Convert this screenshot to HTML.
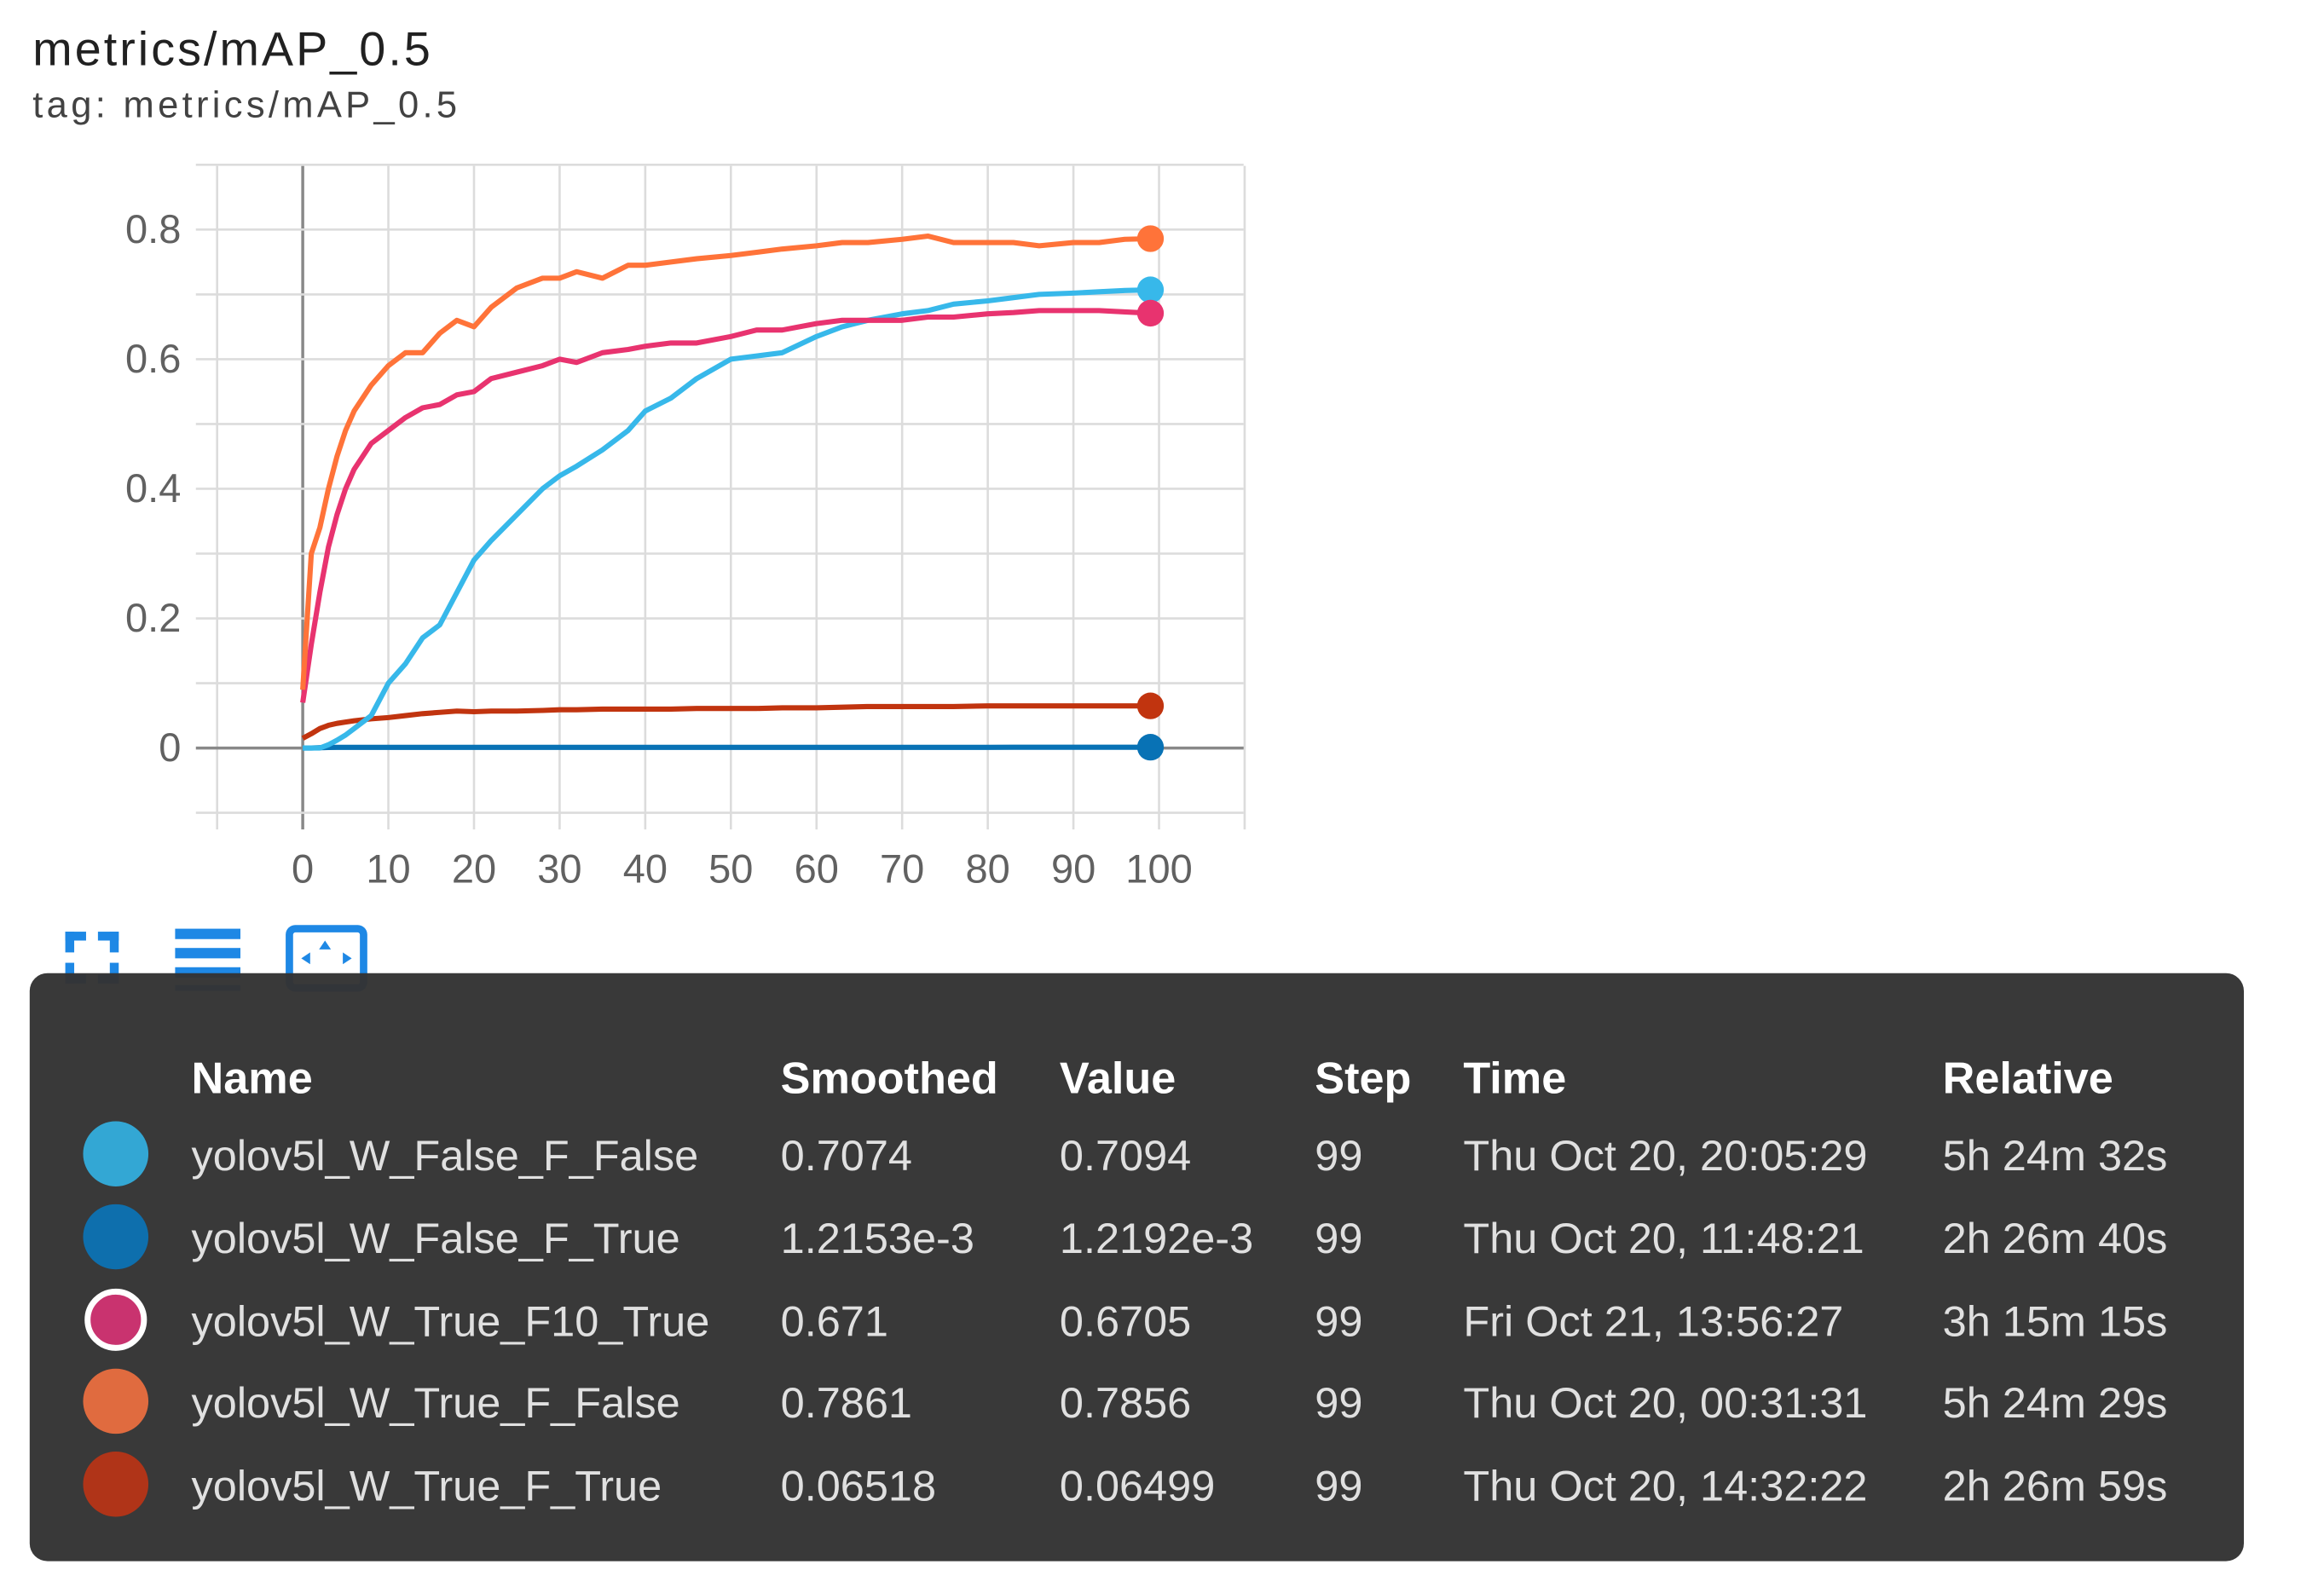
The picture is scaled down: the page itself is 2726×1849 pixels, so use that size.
<!DOCTYPE html>
<html><head><meta charset="utf-8">
<style>
html,body{margin:0;padding:0;background:#fff;width:2726px;height:1849px;overflow:hidden}
svg{display:block}
text{font-family:"Liberation Sans",sans-serif}
</style></head>
<body>
<svg id="chart" width="2726" height="1849" viewBox="0 0 1566 1064" preserveAspectRatio="none" xmlns="http://www.w3.org/2000/svg">
  <text x="22" y="44" font-size="32" fill="#212121" textLength="268">metrics/mAP_0.5</text>
  <text x="22" y="79" font-size="25" fill="#424242" textLength="286">tag: metrics/mAP_0.5</text>
  <g id="grid"></g>
  <g id="series"></g>
  <g fill="#1e88e5">
    <rect x="44" y="629" width="6" height="14"/><rect x="44" y="629" width="14" height="6"/>
    <rect x="74" y="629" width="6" height="14"/><rect x="66" y="629" width="14" height="6"/>
    <rect x="44" y="650" width="6" height="14"/><rect x="44" y="658" width="14" height="6"/>
    <rect x="74" y="650" width="6" height="14"/><rect x="66" y="658" width="14" height="6"/>
  </g>
  <g fill="#1e88e5">
    <rect x="118" y="627" width="44" height="7"/><rect x="118" y="640" width="44" height="7"/><rect x="118" y="653" width="44" height="7"/><rect x="118" y="665" width="44" height="4"/>
  </g>
  <g>
    <rect x="195" y="627" width="50" height="40" rx="4" fill="none" stroke="#1e88e5" stroke-width="5"/>
    <polygon points="219,635 215,641 223,641" fill="#1e88e5"/>
    <polygon points="203,647 209,643 209,651" fill="#1e88e5"/>
    <polygon points="237,647 231,643 231,651" fill="#1e88e5"/>
  </g>
  <g>
    <rect x="20" y="657" width="1492" height="397" rx="12" fill="#333333" opacity="0.97"/>
    <g font-size="30" font-weight="bold" fill="#ffffff">
      <text x="129" y="738">Name</text><text x="526" y="738">Smoothed</text><text x="714" y="738">Value</text>
      <text x="886" y="738">Step</text><text x="986" y="738">Time</text><text x="1309" y="738">Relative</text>
    </g>
    <g id="rows" font-size="29" fill="#e0e0e0"></g>
  </g>
</svg>
<script>
const NS='http://www.w3.org/2000/svg';
const steps=[0,1,2,3,4,5,6,8,10,12,14,16,18,20,22,25,28,30,32,35,38,40,43,46,50,53,56,60,63,66,70,73,76,80,83,86,90,93,96,99];
const trueFFalse=[0.09,0.30,0.34,0.40,0.45,0.49,0.52,0.56,0.59,0.61,0.61,0.64,0.66,0.65,0.68,0.71,0.725,0.725,0.735,0.725,0.745,0.745,0.75,0.755,0.76,0.765,0.77,0.775,0.78,0.78,0.785,0.79,0.78,0.78,0.78,0.775,0.78,0.78,0.785,0.786];
const trueF10True=[0.07,0.16,0.24,0.31,0.36,0.40,0.43,0.47,0.49,0.51,0.525,0.53,0.545,0.55,0.57,0.58,0.59,0.60,0.595,0.61,0.615,0.62,0.625,0.625,0.635,0.645,0.645,0.655,0.66,0.66,0.66,0.665,0.665,0.67,0.672,0.675,0.675,0.675,0.673,0.671];
const falseFFalse=[0.0,0.0,0.0,0.005,0.012,0.02,0.03,0.05,0.10,0.13,0.17,0.19,0.24,0.29,0.32,0.36,0.40,0.42,0.435,0.46,0.49,0.52,0.54,0.57,0.60,0.605,0.61,0.635,0.65,0.66,0.67,0.675,0.685,0.69,0.695,0.70,0.702,0.704,0.706,0.707];
const trueFTrue=[0.015,0.022,0.03,0.035,0.038,0.04,0.042,0.045,0.047,0.05,0.053,0.055,0.057,0.056,0.057,0.057,0.058,0.059,0.059,0.06,0.06,0.06,0.06,0.061,0.061,0.061,0.062,0.062,0.063,0.064,0.064,0.064,0.064,0.065,0.065,0.065,0.065,0.065,0.065,0.065];
const falseFTrue=[0.0,0.0,0.0005,0.0008,0.001,0.001,0.001,0.001,0.001,0.001,0.001,0.001,0.001,0.001,0.001,0.001,0.001,0.001,0.001,0.001,0.001,0.001,0.001,0.001,0.001,0.001,0.001,0.001,0.001,0.001,0.001,0.001,0.001,0.001,0.0012,0.0012,0.0012,0.0012,0.0012,0.0012];
const xTicks=[0,10,20,30,40,50,60,70,80,90,100];
const yTicks=[0,0.2,0.4,0.6,0.8];
const yTickLabels=['0','0.2','0.4','0.6','0.8'];
const names=['yolov5l_W_False_F_False','yolov5l_W_False_F_True','yolov5l_W_True_F10_True','yolov5l_W_True_F_False','yolov5l_W_True_F_True'];
const smoothed=['0.7074','1.2153e-3','0.671','0.7861','0.06518'];
const values=['0.7094','1.2192e-3','0.6705','0.7856','0.06499'];
const stepCol=['99','99','99','99','99'];
const times=['Thu Oct 20, 20:05:29','Thu Oct 20, 11:48:21','Fri Oct 21, 13:56:27','Thu Oct 20, 00:31:31','Thu Oct 20, 14:32:22'];
const relative=['5h 24m 32s','2h 26m 40s','3h 15m 15s','5h 24m 29s','2h 26m 59s'];

const X=v=>204+v*5.77;
const Y=v=>505-v*437.5;
function mk(tag,attrs,parent){const e=document.createElementNS(NS,tag);for(const k in attrs)e.setAttribute(k,attrs[k]);parent.appendChild(e);return e;}
const grid=document.getElementById('grid');
for(let v=-10;v<=110;v+=10){
  const l=mk('line',{x1:X(v),x2:X(v),y1:112,y2:560,stroke:v===0?'#888':'#dcdcdc','stroke-width':v===0?2:1.5},grid);
  
  
}
for(let i=-1;i<=9;i++){
  const v=i/10;
  const l=mk('line',{x1:132,x2:838,y1:Y(v),y2:Y(v),stroke:i===0?'#888':'#dcdcdc','stroke-width':i===0?2:1.5},grid);
  
  
}
xTicks.forEach(t=>{
  const e=mk('text',{x:X(t),y:596,'font-size':27,'text-anchor':'middle',fill:'#616161'},grid);
  e.textContent=t;
  
  
});
yTicks.forEach((t,i)=>{
  const e=mk('text',{x:122,y:Y(t)+9,'font-size':27,'text-anchor':'end',fill:'#616161'},grid);
  e.textContent=yTickLabels[i];
  
  
});
const sg=document.getElementById('series');
const seriesList=[
  {d:trueFTrue,c:'#c1340f',n:'line-true-f-true'},
  {d:falseFTrue,c:'#0872b5',n:'line-false-f-true'},
  {d:falseFFalse,c:'#37b8ea',n:'line-false-f-false'},
  {d:trueF10True,c:'#e8336f',n:'line-true-f10-true'},
  {d:trueFFalse,c:'#ff7339',n:'line-true-f-false'}
];
seriesList.forEach(s=>{
  const pts=steps.map((st,i)=>X(st)+','+Y(s.d[i])).join(' ');
  const p=mk('polyline',{points:pts,fill:'none',stroke:s.c,'stroke-width':3.5,'stroke-linejoin':'round'},sg);
  
  
  const li=steps.length-1;
  const c=mk('circle',{cx:X(steps[li]),cy:Y(s.d[li]),r:9,fill:s.c},sg);
  
  
});
const rows=document.getElementById('rows');
const dotColors=['#33a7d4','#0e6fad','#c9336f','#e06b3f','#b03418'];
const rowY=[790,846,902,957,1013];
names.forEach((n,i)=>{
  const g=mk('g',{},rows);
  
  
  const c=mk('circle',{cx:78,cy:rowY[i]-11,r:i===2?19:22,fill:dotColors[i],stroke:i===2?'#fff':'none','stroke-width':i===2?4:0},g);
  
  
  [[129,n],[526,smoothed[i]],[714,values[i]],[886,stepCol[i]],[986,times[i]],[1309,relative[i]]].forEach(([x,t])=>{
    const e=mk('text',{x:x,y:rowY[i]},g);e.textContent=t;
    
    
  });
});
</script>
</body></html>
